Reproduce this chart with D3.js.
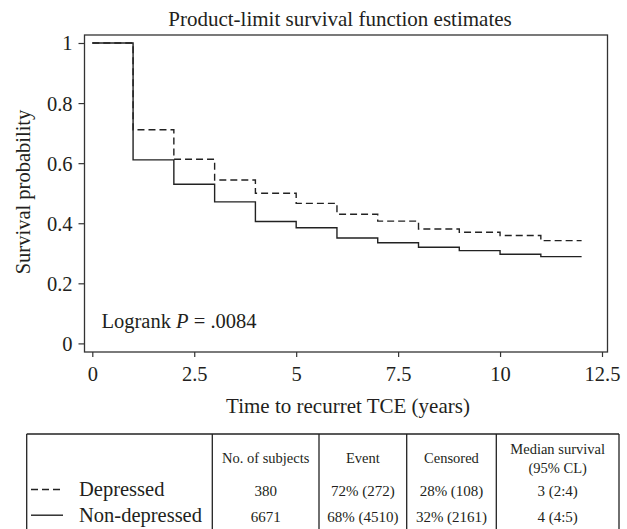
<!DOCTYPE html>
<html>
<head>
<meta charset="utf-8">
<script src="https://cdn.jsdelivr.net/npm/d3@7"></script>
<style>
  body { margin: 0; background: #fff; }
  svg text { font-family: "Liberation Serif", "Times New Roman", serif !important; fill: #231f20; }
</style>
</head>
<body>
<div id="chart"></div>
<script>
// step times (years) and survival estimates
var stepTimes = [0, 1, 2, 3, 4, 5, 6, 7, 8, 9, 10, 11];
var endTime = 12;
var depressed    = [1, 0.711, 0.613, 0.544, 0.500, 0.466, 0.430, 0.407, 0.381, 0.370, 0.359, 0.342];
var nonDepressed = [1, 0.611, 0.530, 0.471, 0.406, 0.385, 0.351, 0.335, 0.320, 0.309, 0.297, 0.289];

var xTicks = [0, 2.5, 5, 7.5, 10, 12.5];
var yTicks = [0, 0.2, 0.4, 0.6, 0.8, 1];

// summary table
var groups      = ["Depressed", "Non-depressed"];
var groupDash   = ["7,4", null];
var nSubjects   = ["380", "6671"];
var events      = ["72% (272)", "68% (4510)"];
var censored    = ["28% (108)", "32% (2161)"];
var medianSurv  = ["3 (2:4)", "4 (4:5)"];

var W = 627, H = 529;
var serif = "'Liberation Serif', 'Times New Roman', serif";
var frame = {left: 84.5, top: 35, right: 607.5, bottom: 352};

var svg = d3.select("#chart").append("svg")
  .attr("width", W)
  .attr("height", H)
  .attr("font-family", serif);

var x = d3.scaleLinear().domain([0, 12.5]).range([92.3, 602]);
var y = d3.scaleLinear().domain([0, 1]).range([343.4, 43]);

// title
svg.append("text")
  .attr("x", 340).attr("y", 26)
  .attr("text-anchor", "middle")
  .style("font-family", serif)
  .style("font-size", "21px")
  .text("Product-limit survival function estimates");

// plot frame
svg.append("rect")
  .attr("x", frame.left).attr("y", frame.top)
  .attr("width", frame.right - frame.left)
  .attr("height", frame.bottom - frame.top)
  .attr("fill", "none")
  .attr("stroke", "#333")
  .attr("stroke-width", 1.3);

// y axis
var yAxis = svg.append("g")
  .attr("transform", "translate(" + frame.left + ",0)")
  .call(d3.axisLeft(y).tickValues(yTicks).tickSize(6).tickPadding(6).tickFormat(d3.format("~g")));
yAxis.attr("font-family", serif).attr("font-size", null);
yAxis.select(".domain").remove();
yAxis.selectAll("line").attr("stroke", "#333").attr("stroke-width", 1.2);
yAxis.selectAll("text")
  .style("font-size", "20.5px")
  .style("font-family", serif)
  .attr("fill", "#231f20")
  .attr("dy", "0.34em");

// x axis
var xAxis = svg.append("g")
  .attr("transform", "translate(0," + frame.bottom + ")")
  .call(d3.axisBottom(x).tickValues(xTicks).tickSize(5).tickPadding(9).tickFormat(d3.format("~g")));
xAxis.attr("font-family", serif).attr("font-size", null);
xAxis.select(".domain").remove();
xAxis.selectAll("line").attr("stroke", "#333").attr("stroke-width", 1.2);
xAxis.selectAll("text")
  .style("font-size", "20.5px")
  .style("font-family", serif)
  .attr("fill", "#231f20");

// axis titles
svg.append("text")
  .attr("x", 348).attr("y", 412.5)
  .attr("text-anchor", "middle")
  .style("font-family", serif)
  .style("font-size", "21px")
  .text("Time to recurret TCE (years)");

svg.append("text")
  .attr("transform", "translate(30,192) rotate(-90)")
  .attr("text-anchor", "middle")
  .style("font-family", serif)
  .style("font-size", "20.5px")
  .text("Survival probability");

// survival curves
function stepPoints(vals) {
  var pts = stepTimes.map(function(t, i) { return [t, vals[i]]; });
  pts.push([endTime, vals[vals.length - 1]]);
  return pts;
}
var line = d3.line()
  .x(function(d) { return x(d[0]); })
  .y(function(d) { return y(d[1]); })
  .curve(d3.curveStepAfter);

svg.append("path")
  .datum(stepPoints(nonDepressed))
  .attr("d", line)
  .attr("fill", "none")
  .attr("stroke", "#222")
  .attr("stroke-width", 1.4);

svg.append("path")
  .datum(stepPoints(depressed))
  .attr("d", line)
  .attr("fill", "none")
  .attr("stroke", "#222")
  .attr("stroke-width", 1.4)
  .attr("stroke-dasharray", "7,4");

// logrank annotation
var lr = svg.append("text")
  .attr("x", 101.5).attr("y", 327.5)
  .style("font-family", serif)
  .style("font-size", "20.5px");
lr.append("tspan").text("Logrank ");
lr.append("tspan").style("font-style", "italic").text("P");
lr.append("tspan").text(" = .0084");

// table
var tbl = {left: 26.7, top: 434, right: 619};
var colEdges = [tbl.left, 212.3, 319, 406.7, 496.3, tbl.right];
var tg = svg.append("g");
tg.append("line")
  .attr("x1", tbl.left).attr("x2", tbl.right)
  .attr("y1", tbl.top).attr("y2", tbl.top)
  .attr("stroke", "#222").attr("stroke-width", 1.3);
tg.selectAll(".vline").data(colEdges).enter()
  .append("line")
  .attr("x1", function(d) { return d; }).attr("x2", function(d) { return d; })
  .attr("y1", tbl.top).attr("y2", H + 2)
  .attr("stroke", "#222").attr("stroke-width", 1.3);

function colCenter(i) { return (colEdges[i] + colEdges[i + 1]) / 2; }

var headers = [["No. of subjects"], ["Event"], ["Censored"], ["Median survival", "(95% CL)"]];
headers.forEach(function(h, i) {
  var lines = h.length === 1 ? [462.5] : [454, 473];
  h.forEach(function(s, k) {
    tg.append("text")
      .attr("text-anchor", "middle")
      .style("font-family", serif)
      .style("font-size", "14.5px")
      .attr("x", colCenter(i + 1)).attr("y", lines[k])
      .text(s);
  });
});

var rowY = [496, 521.7];
groups.forEach(function(g, r) {
  var ly = rowY[r] - 6.5;
  var sample = tg.append("line")
    .attr("x1", 31).attr("x2", 63)
    .attr("y1", ly).attr("y2", ly)
    .attr("stroke", "#222").attr("stroke-width", 1.4);
  if (groupDash[r]) sample.attr("stroke-dasharray", "7,4");
  tg.append("text")
    .attr("x", 79).attr("y", rowY[r])
    .style("font-family", serif)
    .style("font-size", "20.5px")
    .text(g);
  [nSubjects, events, censored, medianSurv].forEach(function(col, c) {
    tg.append("text")
      .attr("x", colCenter(c + 1)).attr("y", rowY[r])
      .attr("text-anchor", "middle")
      .style("font-family", serif)
      .style("font-size", "15px")
      .text(col[r]);
  });
});
</script>
</body>
</html>
